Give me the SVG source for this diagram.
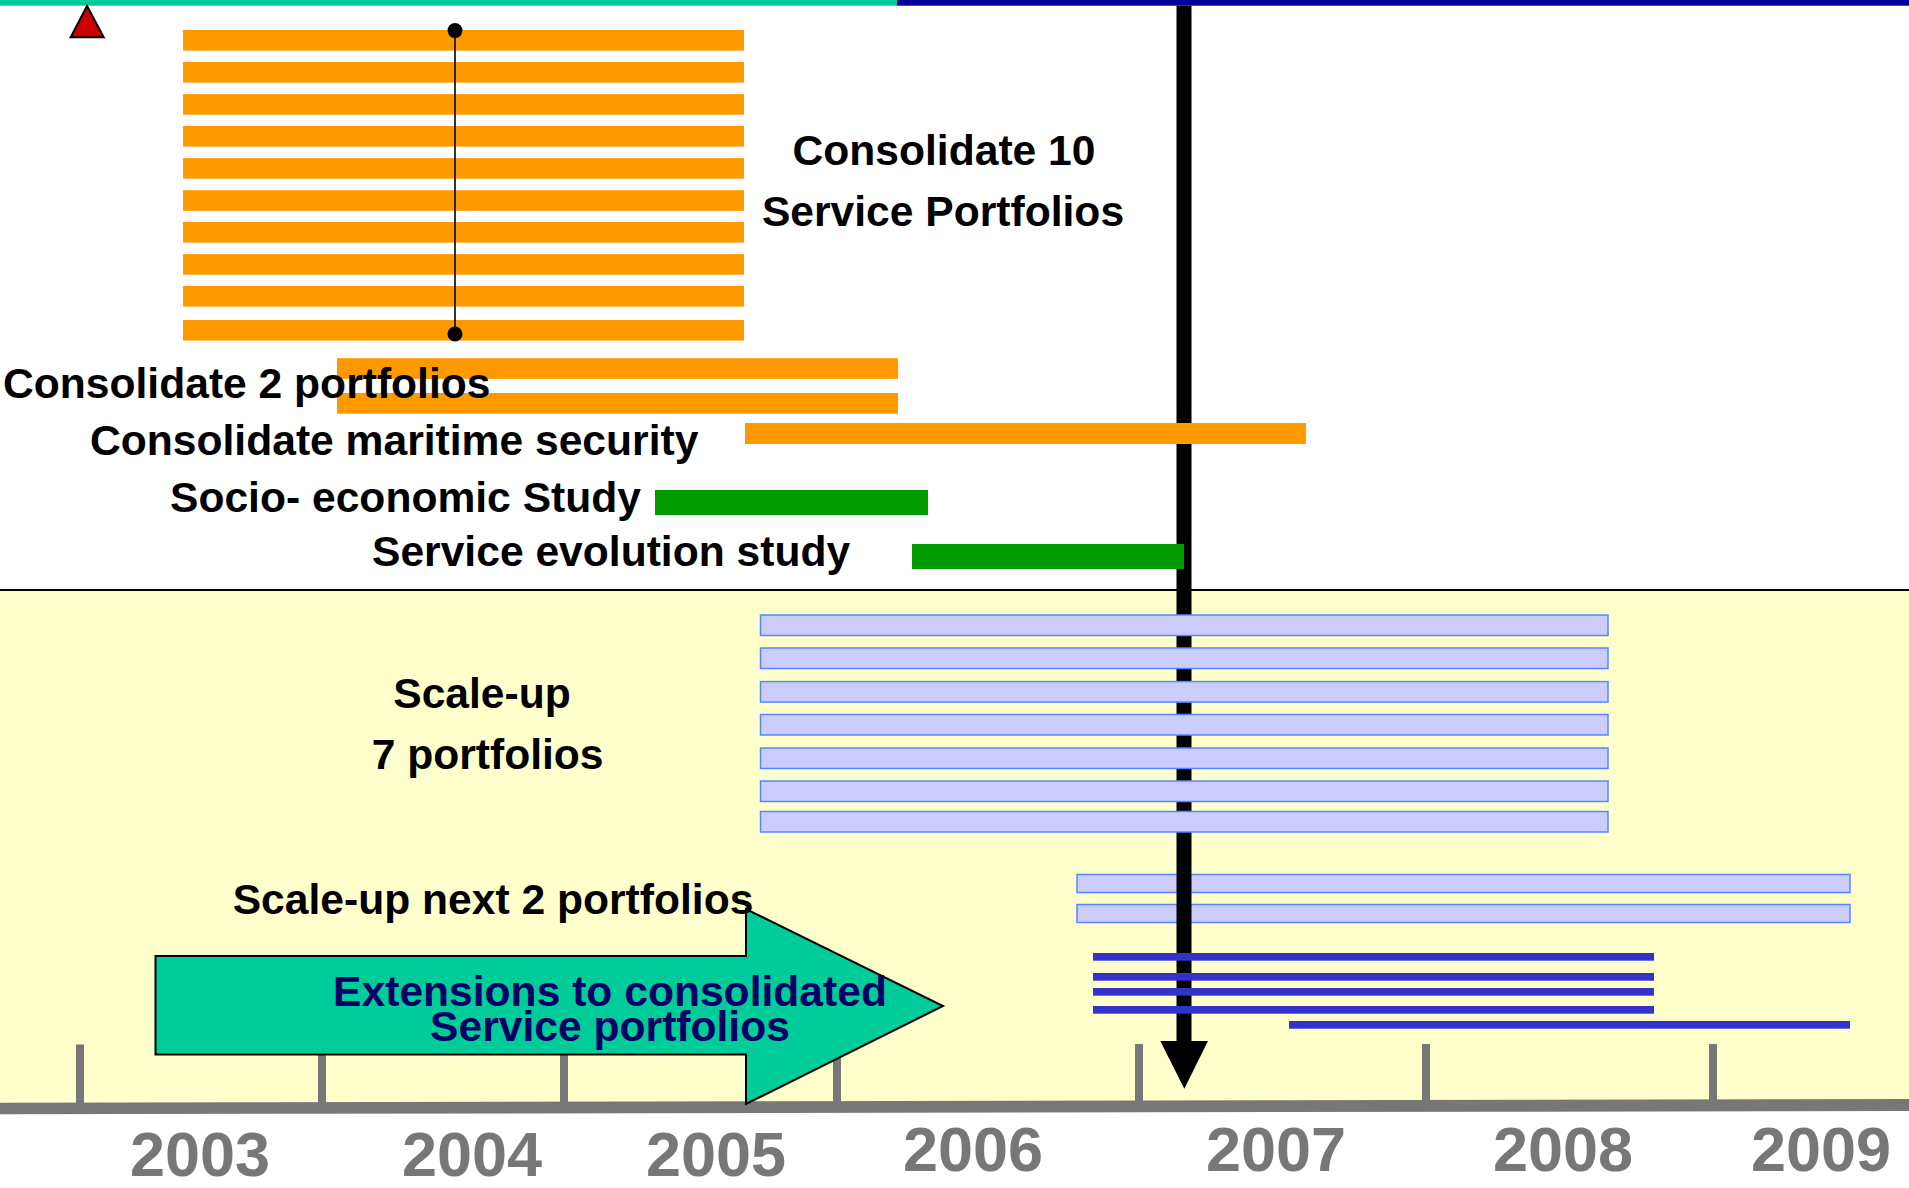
<svg xmlns="http://www.w3.org/2000/svg" width="1909" height="1188" viewBox="0 0 1909 1188">
<style>
.lbl{font-family:"Liberation Sans",Arial,sans-serif;font-weight:bold;font-size:42.6px;fill:#000}
.yr{font-family:"Liberation Sans",Arial,sans-serif;font-weight:bold;font-size:63px;fill:#777;text-anchor:middle}
.or{fill:#FF9900}
.gr{fill:#009900}
.lb{fill:#CCCCFF;stroke:#5588FF;stroke-width:1.5}
.db{fill:#3333CC}
.tick{stroke:#777;stroke-width:8}
</style>
<rect x="0" y="0" width="1909" height="1188" fill="#fff"/>
<rect x="0" y="590" width="1909" height="518" fill="#FFFFCC"/>
<line x1="0" y1="590" x2="1909" y2="590" stroke="#000" stroke-width="2"/>
<g id="topbar">
<rect x="0" y="0" width="897" height="5.7" fill="#00CC99"/>
<rect x="897" y="0" width="1012" height="5.7" fill="#000099"/>
</g>
<g id="milestone">
<polygon points="87,6 70.7,37.3 103.7,37.3" fill="#CC0000" stroke="#000" stroke-width="2"/>
</g>
<g id="scaleup-next2-bars">
<rect class="lb" x="1077" y="874.5" width="773" height="18"/>
<rect class="lb" x="1077" y="904.5" width="773" height="18"/>
</g>
<g id="consolidate10-bars">
<rect class="or" x="183" y="30" width="561" height="20.6"/>
<rect class="or" x="183" y="62" width="561" height="20.6"/>
<rect class="or" x="183" y="94.1" width="561" height="20.6"/>
<rect class="or" x="183" y="126" width="561" height="20.6"/>
<rect class="or" x="183" y="158.1" width="561" height="20.6"/>
<rect class="or" x="183" y="190.2" width="561" height="20.6"/>
<rect class="or" x="183" y="222" width="561" height="20.6"/>
<rect class="or" x="183" y="254.1" width="561" height="20.6"/>
<rect class="or" x="183" y="286" width="561" height="20.6"/>
<rect class="or" x="183" y="320" width="561" height="20.6"/>
</g>
<g id="connectors">
<line x1="1184" y1="5.7" x2="1184" y2="1045" stroke="#000" stroke-width="15"/>
<polygon points="1160.3,1041 1208,1041 1184.3,1088.7" fill="#000"/>
<line x1="455" y1="30.6" x2="455" y2="334" stroke="#000" stroke-width="1.6"/>
<ellipse cx="455" cy="30.6" rx="7.5" ry="7.5" fill="#000"/>
<ellipse cx="455" cy="334" rx="7.5" ry="7.5" fill="#000"/>
</g>
<g id="consolidate2-bars">
<rect class="or" x="337" y="358.2" width="561" height="20.7"/>
<rect class="or" x="337" y="393" width="561" height="20.7"/>
</g>
<g id="maritime-bar">
<rect class="or" x="745" y="423" width="561" height="21"/>
</g>
<g id="socio-bar">
<rect class="gr" x="655" y="490" width="273" height="25"/>
</g>
<g id="evolution-bar">
<rect class="gr" x="912" y="544" width="272" height="25"/>
</g>
<g id="scaleup7-bars">
<rect class="lb" x="760.5" y="615" width="847.5" height="20.5"/>
<rect class="lb" x="760.5" y="648" width="847.5" height="20.5"/>
<rect class="lb" x="760.5" y="681.6" width="847.5" height="20.5"/>
<rect class="lb" x="760.5" y="714.5" width="847.5" height="20.5"/>
<rect class="lb" x="760.5" y="748" width="847.5" height="20.5"/>
<rect class="lb" x="760.5" y="781" width="847.5" height="20.5"/>
<rect class="lb" x="760.5" y="811.5" width="847.5" height="20.5"/>
</g>
<g id="extension-lines">
<rect class="db" x="1093" y="953" width="561" height="7.7"/>
<rect class="db" x="1093" y="973" width="561" height="7.7"/>
<rect class="db" x="1093" y="988" width="561" height="7.7"/>
<rect class="db" x="1093" y="1006" width="561" height="7.7"/>
<rect class="db" x="1289" y="1021" width="561" height="7.7"/>
</g>
<g id="axis">
<line class="tick" x1="80" y1="1044.5" x2="80" y2="1106"/>
<line class="tick" x1="322" y1="1044.5" x2="322" y2="1106"/>
<line class="tick" x1="564" y1="1044.5" x2="564" y2="1106"/>
<line class="tick" x1="837" y1="1044.5" x2="837" y2="1106"/>
<line class="tick" x1="1139" y1="1044" x2="1139" y2="1106"/>
<line class="tick" x1="1426" y1="1044" x2="1426" y2="1106"/>
<line class="tick" x1="1713" y1="1044" x2="1713" y2="1106"/>
<polygon points="0,1102.7 1909,1099 1909,1111 0,1114.3" fill="#777"/>
</g>
<g id="extensions-arrow">
<polygon points="155.5,956 746,956 746,909 943,1006 746,1104 746,1054.6 155.5,1054.6" fill="#00CC99" stroke="#000" stroke-width="2"/>
<text x="610" y="1005.7" text-anchor="middle" class="lbl" style="fill:#000066">Extensions to consolidated</text>
<text x="610" y="1041.4" text-anchor="middle" class="lbl" style="fill:#000066">Service portfolios</text>
</g>
<g id="labels">
<text x="944" y="164.6" text-anchor="middle" class="lbl">Consolidate 10</text>
<text x="943" y="225.8" text-anchor="middle" class="lbl">Service Portfolios</text>
<text x="3" y="398" class="lbl">Consolidate 2 portfolios</text>
<text x="90" y="455" class="lbl">Consolidate maritime security</text>
<text x="170" y="511.5" class="lbl">Socio- economic Study</text>
<text x="372" y="565.6" class="lbl">Service evolution study</text>
<text x="482" y="708" text-anchor="middle" class="lbl">Scale-up</text>
<text x="487.6" y="768.8" text-anchor="middle" class="lbl">7 portfolios</text>
<text x="232.7" y="914" class="lbl">Scale-up next 2 portfolios</text>
</g>
<g id="years">
<text x="200" y="1175.5" class="yr">2003</text>
<text x="472" y="1175.5" class="yr">2004</text>
<text x="716" y="1175.5" class="yr">2005</text>
<text x="973" y="1171" class="yr">2006</text>
<text x="1276" y="1171" class="yr">2007</text>
<text x="1563" y="1171" class="yr">2008</text>
<text x="1821" y="1171" class="yr">2009</text>
</g>
</svg>
